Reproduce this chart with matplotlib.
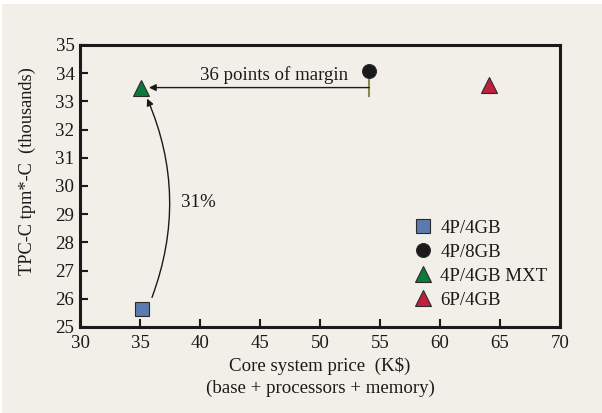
import matplotlib.pyplot as plt
from matplotlib.patches import Rectangle

plt.rcParams['font.family'] = ['Liberation Serif', 'DejaVu Serif']

labels = ['4P/4GB', '4P/8GB', '4P/4GB MXT', '6P/4GB']
price = [35.2, 54.1, 35.1, 64.1]
tpmc = [25.65, 34.07, 33.49, 33.57]
markers = ['s', 'o', '^', '^']
colors = ['#5b7bb0', '#1a1a1a', '#0d7a3b', '#c21f40']
sizes = [10, 10, 12, 12]

fs = 13.6
bg = '#f2efe9'
fig = plt.figure(figsize=(6.02, 4.13), dpi=100, facecolor='white')
fig.patches.append(Rectangle((0.003, 0.0), 0.997, 0.99, transform=fig.transFigure,
                             facecolor=bg, edgecolor='none', zorder=-10))
ax = fig.add_axes([80 / 602, 1 - 327 / 413, 480 / 602, 282 / 413])
ax.set_facecolor(bg)

for x, y, m, c, s, lab in zip(price, tpmc, markers, colors, sizes, labels):
    ax.plot(x, y, linestyle='none', marker=m, markersize=s, markerfacecolor=c,
            markeredgecolor='#2a2a2a', markeredgewidth=0.8, label=lab, zorder=5)

ax.set_xlim(30, 70)
ax.set_ylim(25, 35)
ax.set_xticks(range(30, 71, 5))
ax.set_yticks(range(25, 36))
ax.tick_params(direction='in', length=6, width=1.5, labelsize=fs, colors='#1a1a1a',
               top=False, right=False)
ax.tick_params(axis='x', pad=6)
ax.tick_params(axis='y', pad=4)
for sp in ax.spines.values():
    sp.set_linewidth(2.2)
    sp.set_color('#1a1a1a')

# margin arrow
ax.annotate('', xy=(35.75, tpmc[2]), xytext=(price[1], tpmc[2]),
            arrowprops=dict(arrowstyle='-|>', color='#1a1a1a', lw=1.0,
                            mutation_scale=10, shrinkA=0, shrinkB=0))
ax.plot([price[1], price[1]], [33.2, 33.75], color='#8a8a4a', lw=1.5)
ax.text(46.2, 33.95, '36 points of margin', ha='center', va='center', fontsize=fs,
        color='#1a1a1a')

# curved arrow
ax.annotate('', xy=(35.6, 33.1), xytext=(36.0, 26.05),
            arrowprops=dict(arrowstyle='-|>', color='#1a1a1a', lw=1.0,
                            mutation_scale=10, shrinkA=0, shrinkB=0,
                            connectionstyle='arc3,rad=0.2'))
ax.text(38.4, 29.4, '31%', ha='left', va='center', fontsize=fs, color='#1a1a1a')

ax.set_xlabel('Core system price  (K$)\n(base + processors + memory)', fontsize=fs,
              color='#1a1a1a', labelpad=3, linespacing=1.35)
ax.set_ylabel('TPC-C tpm*-C  (thousands)', fontsize=13.2, color='#1a1a1a')
ax.yaxis.set_label_coords(-0.092, 0.551)

leg = ax.legend(loc='lower right', bbox_to_anchor=(1.021, -0.015), frameon=False,
                fontsize=fs, handletextpad=0.3, labelspacing=0.35, borderaxespad=0.8,
                handlelength=1.2)
for t in leg.get_texts():
    t.set_color('#1a1a1a')

fig.savefig('out.png', dpi=100, facecolor=fig.get_facecolor())
